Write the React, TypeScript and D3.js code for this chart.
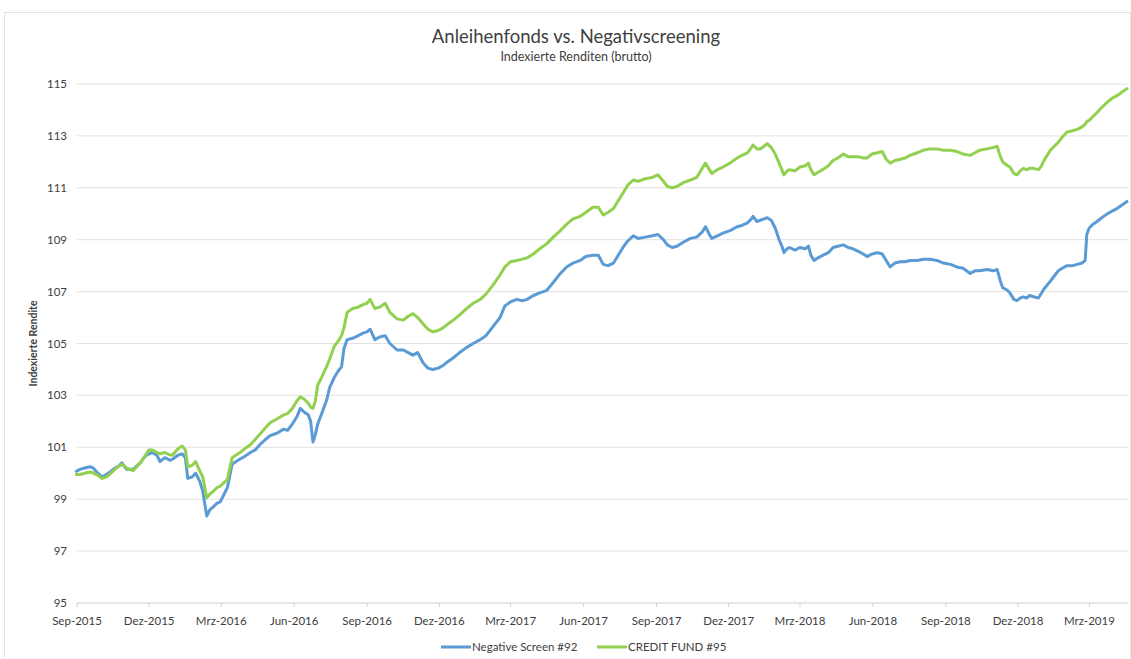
import React, { useEffect, useRef } from "react";
import * as d3 from "d3";

const dates = [
  "2015-09-05", "2015-09-11", "2015-09-17", "2015-09-24", "2015-09-28", "2015-10-02", "2015-10-09", "2015-10-14",
  "2015-10-19", "2015-10-25", "2015-10-29", "2015-11-03", "2015-11-09", "2015-11-17", "2015-11-26", "2015-12-02",
  "2015-12-07", "2015-12-11", "2015-12-17", "2015-12-21", "2015-12-27", "2016-01-03", "2016-01-06", "2016-01-13",
  "2016-01-18", "2016-01-22", "2016-01-25", "2016-01-30", "2016-02-04", "2016-02-09", "2016-02-13", "2016-02-18",
  "2016-02-22", "2016-02-26", "2016-03-02", "2016-03-06", "2016-03-11", "2016-03-15", "2016-03-18", "2016-03-21",
  "2016-03-26", "2016-03-31", "2016-04-06", "2016-04-13", "2016-04-19", "2016-04-25", "2016-05-02", "2016-05-08",
  "2016-05-17", "2016-05-25", "2016-05-30", "2016-06-05", "2016-06-11", "2016-06-15", "2016-06-20", "2016-06-25",
  "2016-06-28", "2016-07-01", "2016-07-04", "2016-07-07", "2016-07-12", "2016-07-18", "2016-07-22", "2016-07-28",
  "2016-08-02", "2016-08-06", "2016-08-09", "2016-08-13", "2016-08-20", "2016-08-27", "2016-09-02", "2016-09-07",
  "2016-09-11", "2016-09-17", "2016-09-23", "2016-09-30", "2016-10-06", "2016-10-15", "2016-10-23", "2016-10-29",
  "2016-11-04", "2016-11-10", "2016-11-17", "2016-11-23", "2016-11-29", "2016-12-06", "2016-12-12", "2016-12-18",
  "2016-12-25", "2017-01-02", "2017-01-11", "2017-01-19", "2017-01-28", "2017-02-04", "2017-02-13", "2017-02-22",
  "2017-02-28", "2017-03-07", "2017-03-15", "2017-03-22", "2017-03-28", "2017-04-05", "2017-04-13", "2017-04-22",
  "2017-04-30", "2017-05-09", "2017-05-17", "2017-05-25", "2017-06-03", "2017-06-10", "2017-06-19", "2017-06-26",
  "2017-07-02", "2017-07-08", "2017-07-15", "2017-07-21", "2017-07-27", "2017-08-02", "2017-08-09", "2017-08-15",
  "2017-08-24", "2017-09-02", "2017-09-09", "2017-09-16", "2017-09-21", "2017-09-27", "2017-10-03", "2017-10-11",
  "2017-10-20", "2017-10-28", "2017-11-04", "2017-11-08", "2017-11-13", "2017-11-16", "2017-11-23", "2017-11-30",
  "2017-12-09", "2017-12-18", "2017-12-24", "2017-12-31", "2018-01-05", "2018-01-07", "2018-01-12", "2018-01-16",
  "2018-01-21", "2018-01-25", "2018-01-30", "2018-02-04", "2018-02-09", "2018-02-13", "2018-02-15", "2018-02-19",
  "2018-02-22", "2018-03-01", "2018-03-07", "2018-03-14", "2018-03-18", "2018-03-21", "2018-03-25", "2018-03-30",
  "2018-04-05", "2018-04-12", "2018-04-18", "2018-04-24", "2018-05-01", "2018-05-07", "2018-05-13", "2018-05-20",
  "2018-05-26", "2018-05-31", "2018-06-06", "2018-06-13", "2018-06-19", "2018-06-24", "2018-06-29", "2018-07-05",
  "2018-07-12", "2018-07-18", "2018-07-24", "2018-08-02", "2018-08-10", "2018-08-18", "2018-08-27", "2018-09-04",
  "2018-09-13", "2018-09-21", "2018-09-29", "2018-10-08", "2018-10-14", "2018-10-20", "2018-10-29", "2018-11-06",
  "2018-11-11", "2018-11-15", "2018-11-18", "2018-11-24", "2018-11-27", "2018-12-02", "2018-12-06", "2018-12-10",
  "2018-12-14", "2018-12-18", "2018-12-22", "2018-12-27", "2019-01-02", "2019-01-05", "2019-01-09", "2019-01-13",
  "2019-01-17", "2019-01-22", "2019-01-27", "2019-02-01", "2019-02-07", "2019-02-14", "2019-02-20", "2019-02-26",
  "2019-03-02", "2019-03-04", "2019-03-07", "2019-03-12", "2019-03-17", "2019-03-23", "2019-03-30", "2019-04-05",
  "2019-04-11", "2019-04-18", "2019-04-25",
];

// Negative Screen #92
const negativeScreen = [
  100.05, 100.15, 100.2, 100.25, 100.2, 100.05, 99.85, 99.95,
  100.05, 100.2, 100.25, 100.4, 100.15, 100.15, 100.4, 100.65,
  100.75, 100.8, 100.7, 100.45, 100.6, 100.5, 100.55, 100.7,
  100.75, 100.6, 99.8, 99.85, 100.0, 99.7, 99.3, 98.35,
  98.6, 98.7, 98.85, 98.9, 99.2, 99.45, 99.9, 100.35,
  100.45, 100.55, 100.65, 100.8, 100.9, 101.1, 101.3, 101.45,
  101.55, 101.7, 101.65, 101.9, 102.2, 102.5, 102.35, 102.25,
  102.0, 101.2, 101.5, 101.9, 102.3, 102.8, 103.3, 103.7,
  103.95, 104.1, 104.8, 105.15, 105.2, 105.3, 105.4, 105.45,
  105.55, 105.15, 105.25, 105.3, 105.0, 104.75, 104.75, 104.65,
  104.55, 104.65, 104.25, 104.05, 104.0, 104.05, 104.15, 104.3,
  104.45, 104.65, 104.85, 105.0, 105.15, 105.3, 105.65, 106.0,
  106.45, 106.6, 106.7, 106.65, 106.7, 106.85, 106.95, 107.05,
  107.35, 107.7, 107.95, 108.1, 108.2, 108.35, 108.4, 108.4,
  108.05, 108.0, 108.1, 108.4, 108.7, 108.95, 109.15, 109.05,
  109.1, 109.15, 109.2, 109.0, 108.8, 108.7, 108.75, 108.9,
  109.05, 109.1, 109.3, 109.5, 109.2, 109.05, 109.15, 109.25,
  109.35, 109.5, 109.55, 109.65, 109.8, 109.9, 109.7, 109.75,
  109.8, 109.85, 109.75, 109.45, 109.0, 108.7, 108.5, 108.65,
  108.7, 108.6, 108.7, 108.65, 108.75, 108.4, 108.2, 108.3,
  108.4, 108.5, 108.7, 108.75, 108.8, 108.7, 108.65, 108.55,
  108.45, 108.35, 108.45, 108.5, 108.45, 108.2, 107.95, 108.1,
  108.15, 108.15, 108.2, 108.2, 108.25, 108.25, 108.2, 108.1,
  108.05, 107.95, 107.9, 107.7, 107.8, 107.8, 107.85, 107.8,
  107.85, 107.4, 107.15, 107.05, 106.95, 106.7, 106.65, 106.75,
  106.8, 106.75, 106.85, 106.8, 106.75, 106.9, 107.1, 107.25,
  107.4, 107.6, 107.8, 107.9, 108.0, 108.0, 108.05, 108.1,
  108.2, 109.2, 109.45, 109.6, 109.7, 109.85, 110.0, 110.1,
  110.2, 110.35, 110.5,
];

// CREDIT FUND #95
const creditFund = [
  99.95, 99.95, 100.0, 100.05, 100.0, 99.95, 99.8, 99.85,
  99.97, 100.15, 100.25, 100.35, 100.2, 100.1, 100.4, 100.65,
  100.9, 100.9, 100.8, 100.75, 100.8, 100.7, 100.7, 100.95,
  101.05, 100.9, 100.25, 100.3, 100.45, 100.1, 99.85, 99.05,
  99.2, 99.3, 99.45, 99.5, 99.65, 99.75, 100.2, 100.6,
  100.7, 100.8, 100.95, 101.1, 101.3, 101.5, 101.75, 101.95,
  102.1, 102.25, 102.3, 102.5, 102.8, 102.95, 102.85, 102.7,
  102.55, 102.5, 102.8, 103.4, 103.7, 104.1, 104.4, 104.9,
  105.1, 105.3, 105.6, 106.2, 106.35, 106.4, 106.5, 106.55,
  106.7, 106.35, 106.4, 106.55, 106.2, 105.95, 105.9, 106.05,
  106.15, 106.0, 105.75, 105.55, 105.45, 105.5, 105.6, 105.75,
  105.9, 106.1, 106.35, 106.55, 106.7, 106.9, 107.25, 107.65,
  107.95, 108.15, 108.2, 108.25, 108.3, 108.45, 108.65, 108.85,
  109.1, 109.35, 109.6, 109.8, 109.9, 110.05, 110.25, 110.25,
  109.95, 110.05, 110.2, 110.5, 110.8, 111.1, 111.3, 111.25,
  111.35, 111.4, 111.5, 111.25, 111.05, 111.0, 111.05, 111.2,
  111.3, 111.4, 111.75, 111.95, 111.7, 111.55, 111.7, 111.8,
  111.95, 112.15, 112.25, 112.35, 112.55, 112.65, 112.5, 112.5,
  112.6, 112.7, 112.55, 112.3, 111.95, 111.65, 111.5, 111.65,
  111.7, 111.65, 111.8, 111.85, 111.95, 111.7, 111.5, 111.6,
  111.7, 111.85, 112.05, 112.15, 112.3, 112.2, 112.2, 112.2,
  112.15, 112.15, 112.3, 112.35, 112.4, 112.1, 111.95, 112.05,
  112.1, 112.15, 112.25, 112.35, 112.45, 112.5, 112.5, 112.45,
  112.45, 112.4, 112.3, 112.25, 112.35, 112.45, 112.5, 112.55,
  112.6, 112.2, 112.0, 111.85, 111.8, 111.55, 111.5, 111.65,
  111.75, 111.7, 111.75, 111.75, 111.7, 111.8, 112.05, 112.25,
  112.45, 112.6, 112.75, 112.95, 113.15, 113.2, 113.25, 113.35,
  113.45, 113.55, 113.6, 113.75, 113.9, 114.1, 114.3, 114.45,
  114.55, 114.7, 114.85,
];

const yTicks = [95, 97, 99, 101, 103, 105, 107, 109, 111, 113, 115];
const xTickLabels = [
  "Sep-2015", "Dez-2015", "Mrz-2016", "Jun-2016", "Sep-2016", "Dez-2016", "Mrz-2017", "Jun-2017",
  "Sep-2017", "Dez-2017", "Mrz-2018", "Jun-2018", "Sep-2018", "Dez-2018", "Mrz-2019",
];
const seriesNames = ["Negative Screen #92", "CREDIT FUND #95"];
const seriesColors = ["#5b9bd5", "#92d050"];

const width = 1131;
const height = 659;
const font = "Lato, 'Open Sans', sans-serif";

const Chart = () => {
  const ref = useRef(null);

  useEffect(() => {
    const svg = d3.select(ref.current);
    svg.selectAll("*").remove();

    const parse = d3.timeParse("%Y-%m-%d");
    const start = new Date(2015, 8, 1);
    const end = new Date(2019, 3, 25);

    const x = d3.scaleTime().domain([start, end]).range([72, 1128]);
    const y = d3.scaleLinear().domain([95, 115]).range([603, 84]);

    // frame
    svg
      .append("rect")
      .attr("x", 4.5)
      .attr("y", 12.5)
      .attr("width", width - 5)
      .attr("height", height - 12)
      .attr("fill", "white")
      .attr("stroke", "#e3e3e3");

    // title
    svg
      .append("text")
      .attr("x", 576)
      .attr("y", 43)
      .attr("text-anchor", "middle")
      .attr("font-family", font)
      .attr("font-size", 18.5)
      .attr("fill", "#404040")
      .text("Anleihenfonds vs. Negativscreening");
    svg
      .append("text")
      .attr("x", 576)
      .attr("y", 61)
      .attr("text-anchor", "middle")
      .attr("font-family", font)
      .attr("font-size", 12.5)
      .attr("fill", "#404040")
      .text("Indexierte Renditen (brutto)");

    // grid + y labels
    const grid = svg.append("g");
    grid
      .selectAll("line")
      .data(yTicks)
      .join("line")
      .attr("x1", 77)
      .attr("x2", 1128)
      .attr("y1", (d) => y(d))
      .attr("y2", (d) => y(d))
      .attr("stroke", (d) => (d === 95 ? "#d0d0d0" : "#e2e2e2"))
      .attr("stroke-width", 1);

    svg
      .append("g")
      .selectAll("text")
      .data(yTicks)
      .join("text")
      .attr("x", 67)
      .attr("y", (d) => y(d))
      .attr("dy", "0.35em")
      .attr("text-anchor", "end")
      .attr("font-family", font)
      .attr("font-size", 11.5)
      .attr("fill", "#404040")
      .text((d) => d);

    svg
      .append("text")
      .attr("transform", `translate(37, ${y(105)}) rotate(-90)`)
      .attr("text-anchor", "middle")
      .attr("font-family", font)
      .attr("font-size", 10.5)
      .attr("font-weight", "bold")
      .attr("fill", "#404040")
      .text("Indexierte Rendite");

    // x ticks
    const tickDates = xTickLabels.map((_, i) => d3.timeMonth.offset(start, i * 3));
    const xg = svg.append("g");
    xg.selectAll("line")
      .data(tickDates)
      .join("line")
      .attr("x1", (d) => x(d) + 5)
      .attr("x2", (d) => x(d) + 5)
      .attr("y1", 603)
      .attr("y2", 607)
      .attr("stroke", "#d0d0d0");
    xg.selectAll("text")
      .data(tickDates)
      .join("text")
      .attr("x", (d) => x(d) + 5)
      .attr("y", 625)
      .attr("text-anchor", "middle")
      .attr("font-family", font)
      .attr("font-size", 11.5)
      .attr("fill", "#404040")
      .text((_, i) => xTickLabels[i]);

    // lines
    const series = [negativeScreen, creditFund];
    const line = d3
      .line()
      .x((d) => x(d[0]))
      .y((d) => y(d[1]));

    series.forEach((vals, i) => {
      const pts = dates.map((d, j) => [parse(d), vals[j]]);
      svg
        .append("path")
        .datum(pts)
        .attr("d", line)
        .attr("fill", "none")
        .attr("stroke", seriesColors[i])
        .attr("stroke-width", 3)
        .attr("stroke-linejoin", "round");
    });

    // legend
    const legendX = [441, 597];
    const lg = svg.append("g");
    seriesNames.forEach((name, i) => {
      lg.append("line")
        .attr("x1", legendX[i])
        .attr("x2", legendX[i] + 30)
        .attr("y1", 647)
        .attr("y2", 647)
        .attr("stroke", seriesColors[i])
        .attr("stroke-width", 3);
      lg.append("text")
        .attr("x", legendX[i] + 31)
        .attr("y", 647)
        .attr("dy", "0.35em")
        .attr("font-family", font)
        .attr("font-size", 11.5)
        .attr("fill", "#404040")
        .text(name);
    });
  }, []);

  return (
    <svg
      ref={ref}
      width={width}
      height={height}
      style={{ position: "absolute", left: 0, top: 0, background: "white" }}
    ></svg>
  );
};

export default function App() {
  return <Chart />;
}
